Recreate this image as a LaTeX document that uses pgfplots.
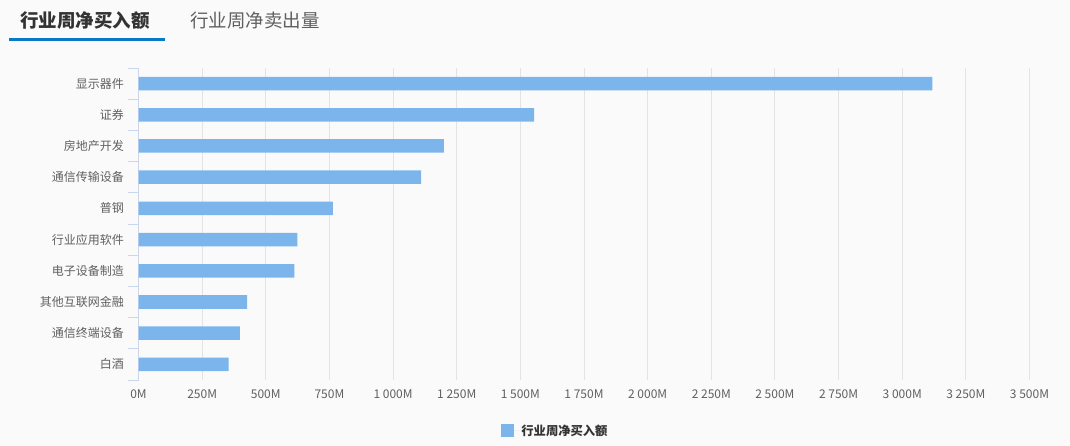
\documentclass[border=0pt]{standalone}
\usepackage{fontspec}
\setmainfont{Noto Sans CJK SC}
\usepackage{pgfplots}
\pgfplotsset{compat=1.18}
\definecolor{barc}{HTML}{7CB5EC}
\definecolor{bgc}{HTML}{FAFAFA}
\definecolor{gridc}{HTML}{E3E3E3}
\definecolor{axc}{HTML}{CCD6EB}
\definecolor{lblc}{HTML}{606060}
\definecolor{tabblue}{HTML}{0A78C8}
\definecolor{darkt}{HTML}{333333}
\begin{document}
\begin{tikzpicture}
\fill[bgc] (0pt,0pt) rectangle (1070pt,446pt);
\node[anchor=west, inner sep=0pt, text=darkt, font=\fontsize{18.5}{19}\selectfont\bfseries] at (20pt,425.5pt) {行业周净买入额};
\node[anchor=west, inner sep=0pt, text=lblc, font=\fontsize{18.5}{19}\selectfont] at (190pt,425.5pt) {行业周净卖出量};
\fill[tabblue] (9pt,404.5pt) rectangle (165pt,407.5pt);
\begin{axis}[
  at={(138.5pt,66pt)}, anchor=south west,
  scale only axis, width=891pt, height=312pt,
  xbar, bar width=13.5pt,
  xmin=0, xmax=3500,
  ymin=-0.5, ymax=9.5, y dir=reverse,
  xtick={0,250,...,3500},
  xticklabels={0M,250M,500M,750M,1 000M,1 250M,1 500M,1 750M,2 000M,2 250M,2 500M,2 750M,3 000M,3 250M,3 500M},
  ytick={0,...,9},
  yticklabels={显示器件,证券,房地产开发,通信传输设备,普钢,行业应用软件,电子设备制造,其他互联网金融,通信终端设备,白酒},
  minor ytick={-0.5,0.5,...,9.5},
  major tick length=0pt, minor tick length=10pt, tick align=outside,
  minor tick style={draw=axc, line width=0.8pt},
  xmajorgrids, major grid style={draw=gridc, line width=1pt},
  x axis line style={draw=none},
  y axis line style={draw=axc, line width=0.8pt},
  axis x line*=bottom, axis y line*=left,
  ticklabel style={font=\fontsize{12}{12}\selectfont, text=lblc},
  yticklabel style={xshift=-11pt},
  xticklabel style={yshift=-6pt},
  legend style={at={(0.468,-0.162)}, anchor=center, draw=none, fill=none, font=\fontsize{12.3}{12.3}\selectfont\bfseries, text=darkt},
  legend image code/.code={\fill[barc] (0pt,-6.5pt) rectangle (13pt,6.5pt); \path (0pt,0pt) -- (18pt,0pt);},
]
\addplot[fill=barc, draw=none] coordinates {
(3118,0) (1554,1) (1200,2) (1110,3) (764,4) (624,5) (612,6) (427,7) (398,8) (354,9)
};
\addlegendentry{行业周净买入额}
\end{axis}
\end{tikzpicture}
\end{document}
